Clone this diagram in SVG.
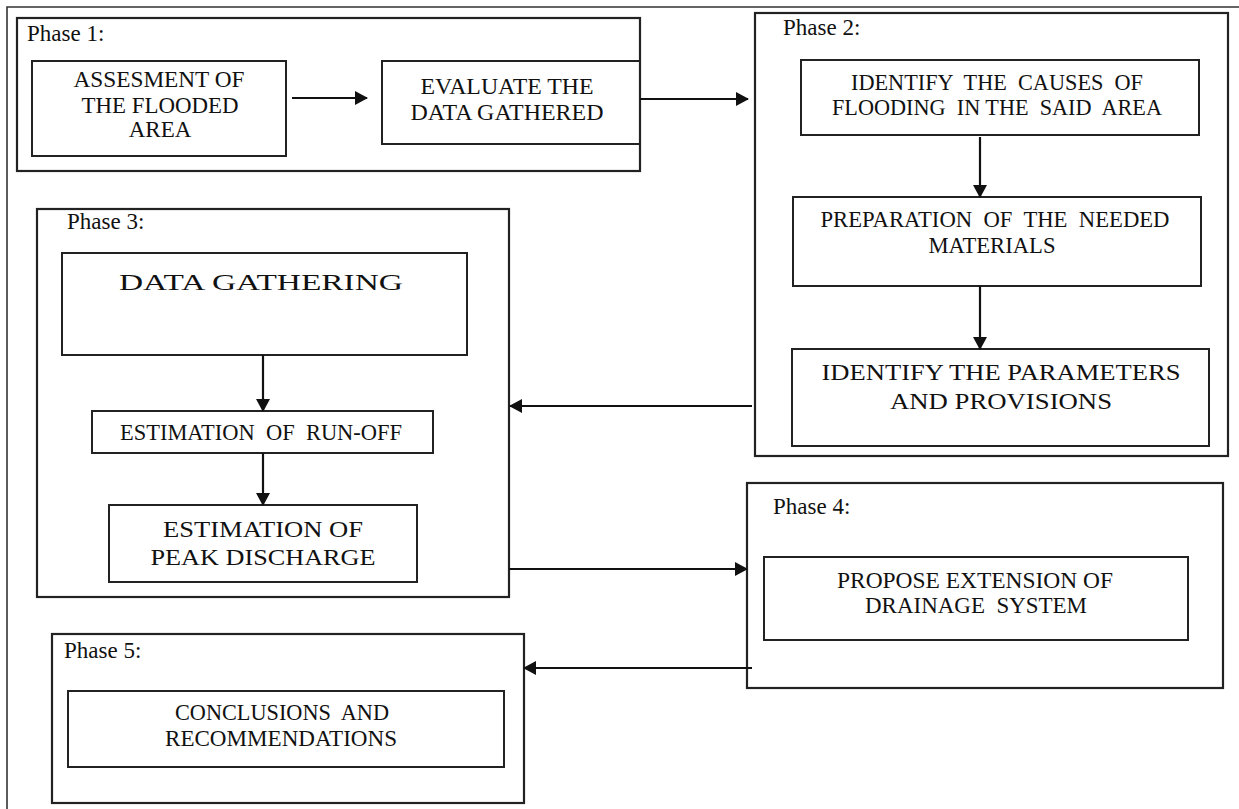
<svg xmlns="http://www.w3.org/2000/svg" width="1239" height="809" viewBox="0 0 1239 809">
<defs>
<marker id="ah" markerUnits="userSpaceOnUse" markerWidth="13" markerHeight="14" refX="12" refY="7" orient="auto">
<path d="M0,0 L13,7 L0,14 z" fill="#111"/>
</marker>
<style>
.frame{fill:none;stroke:#222;stroke-width:2.2}
.box{fill:none;stroke:#222;stroke-width:2}
.outer{fill:none;stroke:#333;stroke-width:1.6}
.conn{fill:none;stroke:#111;stroke-width:2.2;marker-end:url(#ah)}
text{font-family:"Liberation Serif","Times New Roman",serif;fill:#111;white-space:pre}
.lbl{font-size:23px}
.t{font-size:23px;text-anchor:middle}
</style>
</defs>
<rect width="1239" height="809" fill="#fff"/>
<path class="outer" d="M7,809 L7,7 L1239,7"/>

<g id="phase1">
<rect class="frame" x="17" y="18" width="623" height="153"/>
<text class="lbl" x="27" y="41">Phase 1:</text>
</g>
<g id="assessment">
<rect class="box" x="32" y="61" width="254" height="95"/>
<text class="t" x="159" y="87" textLength="171" lengthAdjust="spacingAndGlyphs">ASSESMENT OF</text>
<text class="t" x="160" y="113" textLength="157" lengthAdjust="spacingAndGlyphs">THE FLOODED</text>
<text class="t" x="160" y="137">AREA</text>
</g>
<g id="evaluate">
<rect class="box" x="382" y="61" width="258" height="83"/>
<text class="t" x="507" y="94" textLength="173" lengthAdjust="spacingAndGlyphs">EVALUATE THE</text>
<text class="t" x="507" y="120" textLength="193" lengthAdjust="spacingAndGlyphs">DATA GATHERED</text>
</g>

<g id="phase2">
<rect class="frame" x="755" y="13" width="473" height="443"/>
<text class="lbl" x="783" y="35">Phase 2:</text>
</g>
<g id="causes">
<rect class="box" x="801" y="60" width="398" height="75"/>
<text class="t" x="997" y="90" textLength="292" lengthAdjust="spacingAndGlyphs">IDENTIFY  THE  CAUSES  OF</text>
<text class="t" x="997" y="115" textLength="330" lengthAdjust="spacingAndGlyphs">FLOODING  IN THE  SAID  AREA</text>
</g>
<g id="preparation">
<rect class="box" x="793" y="197" width="408" height="89"/>
<text class="t" x="995" y="227" textLength="349" lengthAdjust="spacingAndGlyphs">PREPARATION  OF  THE  NEEDED</text>
<text class="t" x="992" y="253" textLength="127" lengthAdjust="spacingAndGlyphs">MATERIALS</text>
</g>
<g id="parameters">
<rect class="box" x="792" y="349" width="417" height="97"/>
<text class="t" x="1001" y="380" font-size="26" textLength="359" lengthAdjust="spacingAndGlyphs">IDENTIFY THE PARAMETERS</text>
<text class="t" x="1001" y="409" font-size="26" textLength="222" lengthAdjust="spacingAndGlyphs">AND PROVISIONS</text>
</g>

<g id="phase3">
<rect class="frame" x="37" y="209" width="472" height="388"/>
<text class="lbl" x="67" y="229">Phase 3:</text>
</g>
<g id="datagathering">
<rect class="box" x="62" y="253" width="405" height="102"/>
<text class="t" x="261" y="290" font-size="32" textLength="284" lengthAdjust="spacingAndGlyphs">DATA GATHERING</text>
</g>
<g id="runoff">
<rect class="box" x="92" y="411" width="341" height="42"/>
<text class="t" x="261" y="440" font-size="24" textLength="282" lengthAdjust="spacingAndGlyphs">ESTIMATION  OF  RUN-OFF</text>
</g>
<g id="peak">
<rect class="box" x="109" y="505" width="308" height="77"/>
<text class="t" x="263" y="537" font-size="26" textLength="200" lengthAdjust="spacingAndGlyphs">ESTIMATION OF</text>
<text class="t" x="263" y="565" font-size="26" textLength="225" lengthAdjust="spacingAndGlyphs">PEAK DISCHARGE</text>
</g>

<g id="phase4">
<rect class="frame" x="747" y="483" width="476" height="205"/>
<text class="lbl" x="773" y="514">Phase 4:</text>
</g>
<g id="propose">
<rect class="box" x="764" y="557" width="424" height="83"/>
<text class="t" x="975" y="588" textLength="276" lengthAdjust="spacingAndGlyphs">PROPOSE EXTENSION OF</text>
<text class="t" x="976" y="613" textLength="222" lengthAdjust="spacingAndGlyphs">DRAINAGE  SYSTEM</text>
</g>

<g id="phase5">
<rect class="frame" x="52" y="634" width="472" height="169"/>
<text class="lbl" x="64" y="658">Phase 5:</text>
</g>
<g id="conclusions">
<rect class="box" x="68" y="691" width="436" height="76"/>
<text class="t" x="282" y="720" font-size="22" textLength="214" lengthAdjust="spacingAndGlyphs">CONCLUSIONS  AND</text>
<text class="t" x="281" y="746" font-size="22" textLength="232" lengthAdjust="spacingAndGlyphs">RECOMMENDATIONS</text>
</g>

<g id="connectors">
<line class="conn" x1="292" y1="98" x2="367" y2="98"/>
<line class="conn" x1="640" y1="99" x2="748" y2="99"/>
<line class="conn" x1="980" y1="137" x2="980" y2="197"/>
<line class="conn" x1="980" y1="286" x2="980" y2="349"/>
<line class="conn" x1="752" y1="406" x2="510" y2="406"/>
<line class="conn" x1="263" y1="355" x2="263" y2="411"/>
<line class="conn" x1="263" y1="453" x2="263" y2="505"/>
<line class="conn" x1="509" y1="569" x2="747" y2="569"/>
<line class="conn" x1="752" y1="668" x2="524" y2="668"/>
</g>
</svg>
